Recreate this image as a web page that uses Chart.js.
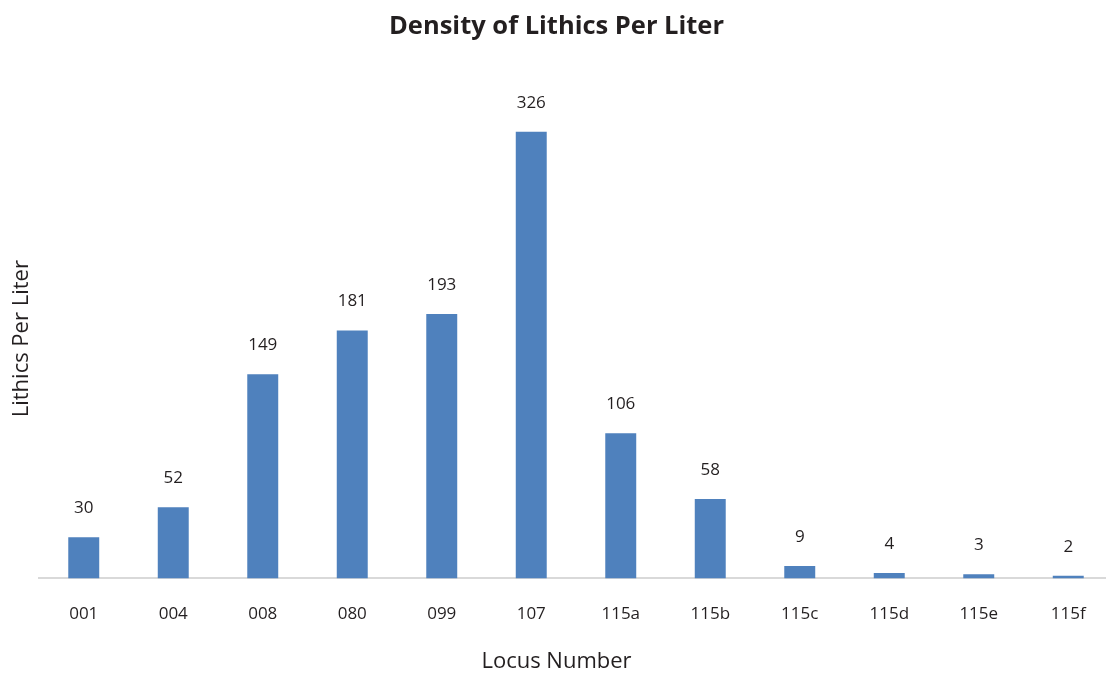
<!DOCTYPE html>
<html>
<head>
<meta charset="utf-8">
<script src="https://cdn.jsdelivr.net/npm/chart.js@4.4.1/dist/chart.umd.min.js"></script>
<style>
  html, body { margin: 0; padding: 0; background: #ffffff; overflow: hidden; }
  #wrap { width: 1113px; height: 673px; position: relative; }
</style>
</head>
<body>
<div id="wrap"><canvas id="c"></canvas></div>
<script>
const categories = ["001", "004", "008", "080", "099", "107", "115a", "115b", "115c", "115d", "115e", "115f"];
const lithicsPerLiter = [30, 52, 149, 181, 193, 326, 106, 58, 9, 4, 3, 2];
const chartTitle = "Density of Lithics Per Liter";
const xTitle = "Locus Number";
const yTitle = "Lithics Per Liter";

const FONT = "'Open Sans', 'Noto Sans', sans-serif";
const TEXT = "#231f20";

const dataLabels = {
  id: "dataLabels",
  afterDatasetsDraw(chart) {
    const ctx = chart.ctx;
    const meta = chart.getDatasetMeta(0);
    ctx.save();
    ctx.font = "17px " + FONT;
    ctx.fillStyle = TEXT;
    ctx.textAlign = "center";
    ctx.textBaseline = "middle";
    meta.data.forEach((bar, i) => {
      ctx.fillText(String(chart.data.datasets[0].data[i]), bar.x, bar.y - 29);
    });
    ctx.restore();
  }
};

new Chart(document.getElementById("c"), {
  type: "bar",
  data: {
    labels: categories,
    datasets: [{
      label: yTitle,
      data: lithicsPerLiter,
      backgroundColor: "#4f81bd",
      borderWidth: 0,
      categoryPercentage: 1,
      barPercentage: 0.346
    }]
  },
  options: {
    responsive: true,
    maintainAspectRatio: false,
    animation: false,
    layout: { padding: { left: 0, right: 0, top: 0, bottom: 0 } },
    plugins: {
      legend: { display: false },
      tooltip: { enabled: false },
      title: {
        display: true,
        text: chartTitle,
        color: TEXT,
        font: { family: FONT, size: 25.5, weight: "bold" },
        padding: { top: 11.7, bottom: 56.7 }
      },
      subtitle: {
        display: true,
        position: "bottom",
        text: xTitle,
        color: TEXT,
        font: { family: FONT, size: 22, weight: "normal" },
        padding: { top: -1.2, bottom: -2.2 }
      }
    },
    scales: {
      x: {
        grid: { display: false, drawTicks: false },
        border: { display: true, color: "#d9d9d9", width: 2 },
        ticks: { color: TEXT, font: { family: FONT, size: 17 }, padding: 25.6, maxRotation: 0, autoSkip: false }
      },
      y: {
        min: 0,
        max: 350,
        grid: { display: false, drawTicks: false },
        border: { display: false },
        ticks: { display: false },
        title: {
          display: true,
          text: yTitle,
          color: TEXT,
          font: { family: FONT, size: 22 },
          padding: { top: 8.8, bottom: 3.8 }
        }
      }
    }
  },
  plugins: [dataLabels]
});
</script>
</body>
</html>
